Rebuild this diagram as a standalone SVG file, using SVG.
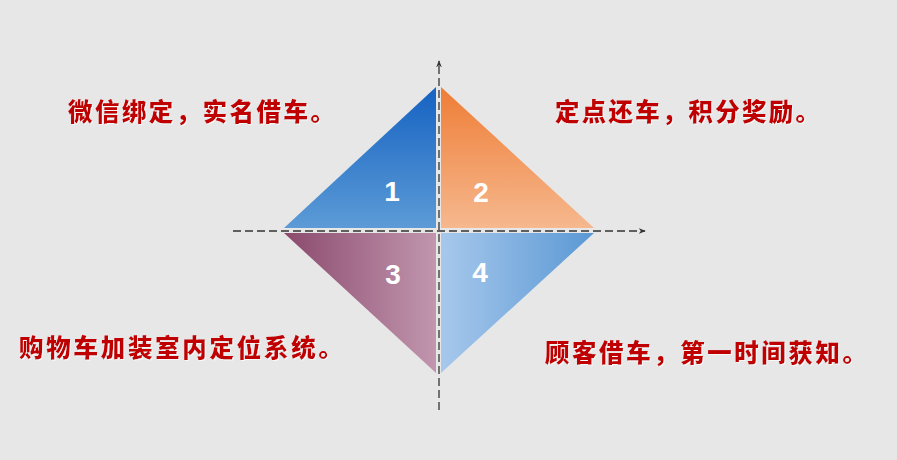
<svg xmlns="http://www.w3.org/2000/svg" width="897" height="460" viewBox="0 0 897 460">
<defs>
<linearGradient id="g1" x1="0" y1="0" x2="0" y2="1"><stop offset="0" stop-color="#1562c2"/><stop offset="1" stop-color="#5c9bd6"/></linearGradient>
<linearGradient id="g2" x1="0" y1="0" x2="0" y2="1"><stop offset="0" stop-color="#ee7d36"/><stop offset="1" stop-color="#f6b88e"/></linearGradient>
<linearGradient id="g3" x1="0" y1="0" x2="1" y2="0"><stop offset="0" stop-color="#8b4a6d"/><stop offset="1" stop-color="#c196ae"/></linearGradient>
<linearGradient id="g4" x1="0" y1="0" x2="1" y2="0"><stop offset="0" stop-color="#a7c8ec"/><stop offset="1" stop-color="#5a98d4"/></linearGradient>
<marker id="arr" viewBox="0 0 10 10" refX="9" refY="5" markerWidth="7" markerHeight="7" orient="auto" markerUnits="userSpaceOnUse"><path d="M0,1 L10,5 L0,9 L3,5 Z" fill="#333"/></marker>
<filter id="sh" x="-5%" y="-20%" width="110%" height="140%"><feDropShadow dx="1" dy="1" stdDeviation="0.6" flood-color="#ffffff" flood-opacity="0.7"/></filter>
</defs>
<style>
.num{font-family:"Liberation Sans",Arial,sans-serif;font-weight:bold;font-size:28px;fill:#fff;text-anchor:middle}
.lbl{font-family:"Noto Sans CJK SC","Noto Sans CJK TC",sans-serif;font-weight:900;font-size:24.5px;fill:#c00000}
.ax{stroke:#333;stroke-width:1.3;stroke-dasharray:8 4;fill:none}
</style>
<rect width="897" height="460" fill="#e7e7e7"/>
<g id="q1"><polygon points="436,87 284,228 436,228" fill="url(#g1)"/><text class="num" x="392" y="201">1</text></g>
<g id="q2"><polygon points="441,87 441,228 594,228" fill="url(#g2)"/><text class="num" x="481" y="202">2</text></g>
<g id="q3"><polygon points="284,233 436,233 436,373" fill="url(#g3)"/><text class="num" x="393" y="284">3</text></g>
<g id="q4"><polygon points="441,233 594,233 441,373" fill="url(#g4)"/><text class="num" x="480" y="282">4</text></g>
<g id="connectors">
<line class="ax" x1="233" y1="231" x2="645" y2="231" marker-end="url(#arr)"/>
<line class="ax" x1="439" y1="410" x2="439" y2="61" marker-end="url(#arr)"/>
</g>
<g id="t1"><text class="lbl" x="68" y="121" textLength="267" lengthAdjust="spacing" filter="url(#sh)">微信绑定，实名借车。</text></g>
<g id="t2"><text class="lbl" x="555" y="121" textLength="265" lengthAdjust="spacing" filter="url(#sh)">定点还车，积分奖励。</text></g>
<g id="t3"><text class="lbl" x="19" y="357" textLength="324" lengthAdjust="spacing" filter="url(#sh)">购物车加装室内定位系统。</text></g>
<g id="t4"><text class="lbl" x="545" y="362" textLength="322" lengthAdjust="spacing" filter="url(#sh)">顾客借车，第一时间获知。</text></g>
</svg>
